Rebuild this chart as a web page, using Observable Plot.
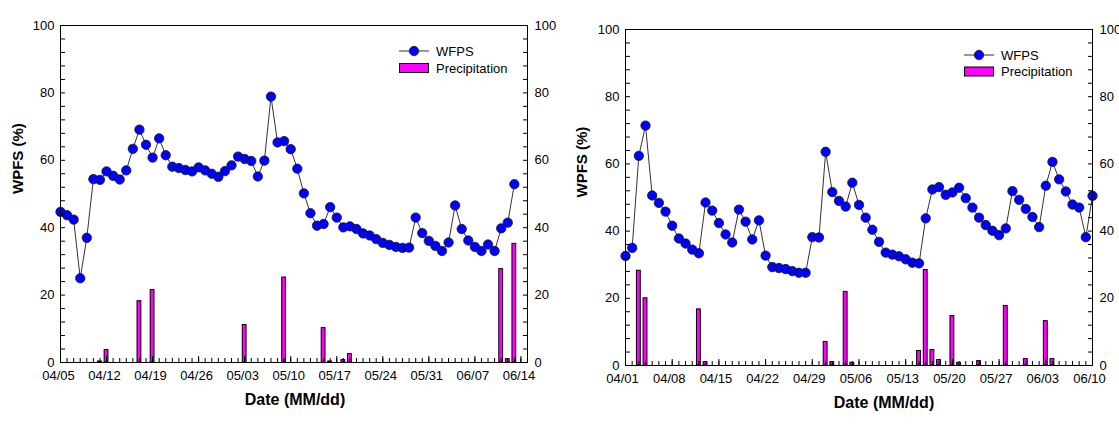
<!DOCTYPE html>
<html>
<head>
<meta charset="utf-8">
<script src="https://cdn.jsdelivr.net/npm/d3@7"></script>
<script src="https://cdn.jsdelivr.net/npm/@observablehq/plot@0.6"></script>
<style>
  body { margin: 0; background: #fff; }
  #wrap { position: relative; width: 1119px; height: 425px; overflow: hidden; font-family: "Liberation Sans", Arial, sans-serif; }
  .panel { position: absolute; top: 0; }
  .legend { position: absolute; overflow: visible; }
</style>
</head>
<body>
<div id="wrap"></div>
<script>
// ---------- data ----------
const leftStart = "04/05";
const leftDomainEnd = "06/15";
const leftWFPS = [44.7, 43.7, 42.4, 25.0, 37.0, 54.4, 54.2, 56.7, 55.4, 54.3,
  57.0, 63.4, 69.1, 64.6, 60.8, 66.5, 61.5, 58.1, 57.7, 57.1,
  56.7, 57.9, 57.0, 56.0, 55.1, 56.8, 58.5, 61.1, 60.4, 59.8,
  55.2, 59.9, 78.9, 65.3, 65.7, 63.3, 57.5, 50.2, 44.3, 40.6,
  41.1, 46.1, 43.0, 40.1, 40.4, 39.6, 38.3, 37.7, 36.6, 35.5,
  34.9, 34.3, 34.0, 34.1, 43.0, 38.4, 36.1, 34.6, 33.1, 35.6,
  46.6, 39.6, 36.2, 34.3, 33.1, 35.0, 33.1, 39.8, 41.5, 52.9];
const leftPrecipDates = ["04/11", "04/12", "04/17", "04/19", "05/03", "05/09", "05/15", "05/16", "05/18", "05/19", "06/11", "06/12", "06/13"];
const leftPrecipValues = [0.3, 3.7, 18.2, 21.5, 11.1, 25.2, 10.2, 0.3, 0.7, 2.5, 27.7, 1.0, 35.2];
const leftTickLabels = ["04/05", "04/12", "04/19", "04/26", "05/03", "05/10", "05/17", "05/24", "05/31", "06/07", "06/14"];

const rightStart = "04/01";
const rightDomainEnd = "06/10";
const rightWFPS = [32.6, 35.0, 62.4, 71.4, 50.6, 48.4, 45.8, 41.6, 37.8, 36.3,
  34.5, 33.4, 48.5, 46.1, 42.4, 39.0, 36.6, 46.4, 42.8, 37.5,
  43.2, 32.7, 29.3, 29.0, 28.7, 28.1, 27.6, 27.6, 38.2, 38.1,
  63.6, 51.6, 49.0, 47.3, 54.4, 47.8, 44.0, 40.4, 36.8, 33.6,
  33.0, 32.5, 31.6, 30.6, 30.4, 43.8, 52.4, 53.1, 50.8, 51.5,
  52.9, 49.8, 47.0, 44.0, 41.8, 40.1, 38.8, 40.8, 51.9, 49.3,
  46.6, 44.2, 41.2, 53.5, 60.6, 55.4, 51.8, 47.9, 47.0, 38.2, 50.5];
const rightPrecipDates = ["04/03", "04/04", "04/12", "04/13", "05/01", "05/02", "05/04", "05/05", "05/15", "05/16", "05/17", "05/18", "05/20", "05/21", "05/24", "05/28", "05/31", "06/03", "06/04"];
const rightPrecipValues = [28.2, 20.0, 16.7, 1.0, 7.0, 1.0, 21.9, 0.8, 4.3, 28.4, 4.6, 1.6, 14.7, 0.8, 1.3, 17.7, 1.9, 13.2, 1.9];
const rightTickLabels = ["04/01", "04/08", "04/15", "04/22", "04/29", "05/06", "05/13", "05/20", "05/27", "06/03", "06/10"];

const yTickValues = [0, 20, 40, 60, 80, 100];
const yLabel = "WPFS (%)";
const xLabel = "Date (MM/dd)";
const legendLabels = ["WFPS", "Precipitation"];

// ---------- helpers ----------
const YEAR = 2021;
const parse = s => { const [m, d] = s.split("/").map(Number); return new Date(Date.UTC(YEAR, m - 1, d)); };
const fmt = d3.utcFormat("%m/%d");
const DAY = 864e5;
const FONT = "'Liberation Sans', Arial, sans-serif";

function panel(cfg) {
  const s = parse(cfg.start), e = parse(cfg.end);
  const series = cfg.wfps.map((v, i) => ({date: d3.utcDay.offset(s, i), value: v}));
  const precip = cfg.pDates.map((d, i) => ({date: parse(d), value: cfg.pValues[i]}));
  const majors = cfg.tickLabels.map(parse);
  const minors = d3.utcDay.range(s, d3.utcDay.offset(e, 1));
  const yMinor = d3.range(0, 101, 4);
  const half = 0.29 * DAY;
  return Plot.plot({
    width: cfg.width,
    height: 425,
    marginLeft: cfg.ml, marginRight: cfg.mr, marginTop: cfg.mt, marginBottom: cfg.mb,
    x: {type: "utc", domain: [s, e], label: null},
    y: {domain: [0, 100], label: null},
    style: {fontFamily: FONT, fontSize: "13px", color: "#000", background: "transparent", overflow: "visible"},
    marks: [
      Plot.rect(precip, {x1: d => new Date(+d.date - half), x2: d => new Date(+d.date + half), y1: 0, y2: "value", fill: "#FF00FF", stroke: "#000", strokeWidth: 1}),
      Plot.line(series, {x: "date", y: "value", stroke: "#333", strokeWidth: 1}),
      Plot.dot(series, {x: "date", y: "value", r: 4.7, fill: "#0000FF", stroke: "#1a1a1a", strokeWidth: 0.8}),
      Plot.frame({stroke: "#000", strokeWidth: 1}),
      // x ticks (inside)
      Plot.axisX(minors, {anchor: "bottom", tickSize: -4, tickFormat: () => "", label: null}),
      Plot.axisX(majors, {anchor: "bottom", tickSize: -6, tickFormat: () => "", label: null}),
      Plot.axisX(majors, {anchor: "bottom", tickSize: 0, tickPadding: 8, tickFormat: fmt, dx: cfg.labelDx, label: null, fontSize: 13}),
      // y ticks (inside) left & right
      Plot.axisY(yMinor, {anchor: "left", tickSize: -5, tickFormat: () => "", label: null}),
      Plot.axisY(yMinor, {anchor: "right", tickSize: -5, tickFormat: () => "", label: null}),
      Plot.axisY(yTickValues, {anchor: "left", tickSize: 0, tickPadding: 6, label: null, fontSize: 13}),
      Plot.axisY(yTickValues, {anchor: "right", tickSize: 0, tickPadding: 7, label: null, fontSize: 13}),
      // titles
      Plot.text([yLabel], {frameAnchor: "left", rotate: -90, dx: cfg.yTitleDx, fontWeight: "bold", fontSize: 15}),
      Plot.text([xLabel], {frameAnchor: "bottom", dy: 42, dx: cfg.xTitleDx, fontWeight: "bold", fontSize: 16})
    ]
  });
}

function legend(container, left, top, rowGap) {
  const svg = d3.select(container).append("svg")
    .attr("class", "legend")
    .attr("width", 140).attr("height", 40)
    .style("left", left + "px").style("top", top + "px")
    .style("font-family", FONT).style("font-size", "13px");
  svg.append("line").attr("x1", 0).attr("x2", 30).attr("y1", 6).attr("y2", 6).attr("stroke", "#333").attr("stroke-width", 1);
  svg.append("circle").attr("cx", 15).attr("cy", 6).attr("r", 4.7).attr("fill", "#0000FF").attr("stroke", "#1a1a1a").attr("stroke-width", 0.8);
  svg.append("text").attr("x", 37).attr("y", 6).attr("dy", "0.35em").text(legendLabels[0]);
  svg.append("rect").attr("x", 0.5).attr("y", 6 + rowGap - 4.5).attr("width", 29).attr("height", 9).attr("fill", "#FF00FF").attr("stroke", "#000").attr("stroke-width", 1);
  svg.append("text").attr("x", 37).attr("y", 6 + rowGap).attr("dy", "0.35em").text(legendLabels[1]);
}

const wrap = document.getElementById("wrap");

const left = panel({
  start: leftStart, end: leftDomainEnd, wfps: leftWFPS, pDates: leftPrecipDates, pValues: leftPrecipValues,
  tickLabels: leftTickLabels, width: 560, ml: 60, mr: 33, mt: 25, mb: 63,
  labelDx: -2, yTitleDx: -42, xTitleDx: 1
});
left.classList.add("panel");
left.style.left = "0px";
wrap.appendChild(left);

const right = panel({
  start: rightStart, end: rightDomainEnd, wfps: rightWFPS, pDates: rightPrecipDates, pValues: rightPrecipValues,
  tickLabels: rightTickLabels, width: 559, ml: 65, mr: 27, mt: 29, mb: 60,
  labelDx: -3, yTitleDx: -43, xTitleDx: 25
});
right.classList.add("panel");
right.style.left = "560px";
wrap.appendChild(right);

legend(wrap, 399, 45, 17);
legend(wrap, 964, 49, 16.5);
</script>
</body>
</html>
